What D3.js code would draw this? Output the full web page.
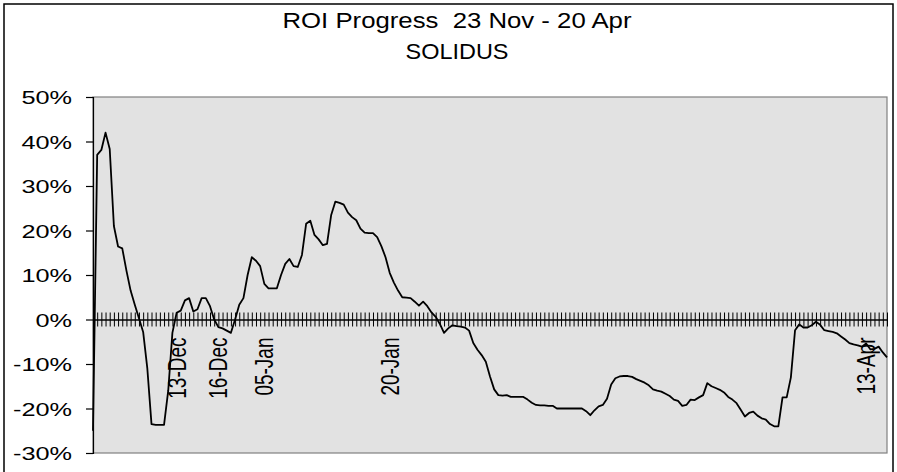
<!DOCTYPE html>
<html>
<head>
<meta charset="utf-8">
<script src="https://cdn.jsdelivr.net/npm/d3@7"></script>
<style>
body { margin: 0; background: #fff; }
svg { display: block; font-family: "Liberation Sans", Arial, sans-serif; }
</style>
</head>
<body>
<div id="chart"></div>
<script>
var titleLines = ['ROI Progress  23 Nov - 20 Apr', 'SOLIDUS'];

// ROI in %, one value per category on the axis
var roi = [
  -25, 37, 38.1, 42, 38.3, 21, 16.4, 16, 11, 6.5,
  3.3, 0.3, -2.8, -11, -23.5, -23.7, -23.7, -23.7, -16, -3,
  1.5, 2, 4.3, 4.8, 1.8, 2.3, 4.8, 4.8, 3, 0,
  -1.7, -2, -2.5, -3, 0, 3.3, 4.8, 10, 14, 13.2,
  12, 8, 7, 7, 7, 10, 12.5, 13.6, 12, 11.8,
  14.5, 21.5, 22.2, 19, 18, 16.7, 17, 23.5, 26.5, 26.2,
  25.8, 24, 23, 22.3, 20.4, 19.5, 19.4, 19.4, 18.5, 16.5,
  14, 10.5, 8.3, 6.5, 5, 4.9, 4.8, 4, 3.1, 4,
  3, 1.6, 0.6, -1, -3, -2, -1.3, -1.5, -1.6, -1.8,
  -2.5, -5.3, -6.8, -8, -9.5, -12.8, -15.7, -17, -17.1, -17,
  -17.4, -17.4, -17.4, -17.4, -18, -18.7, -19.2, -19.3, -19.3, -19.4,
  -19.4, -20, -20, -20, -20, -20, -20, -20, -20.6, -21.5,
  -20.4, -19.5, -19.2, -17.8, -14.6, -13.2, -12.8, -12.7, -12.7, -12.9,
  -13.4, -13.8, -14.2, -14.8, -15.7, -16, -16.2, -16.7, -17.2, -18,
  -18.3, -19.4, -19.2, -18, -18.1, -17.5, -17, -14.3, -15, -15.4,
  -15.8, -16.4, -17.4, -18, -18.8, -20.3, -21.8, -21, -20.7, -21.6,
  -22.2, -22.5, -23.5, -24, -24, -17.5, -17.5, -13, -2.4, -1.1,
  -1.8, -1.8, -1.3, -0.5, -1.2, -2.4, -2.6, -2.8, -3.1, -3.8,
  -4.5, -5.3, -5.6, -5.8, -6.1, -5.4, -6.7, -6.6, -6.1, -7.4,
  -8.5
];

var yTicks = [-30, -20, -10, 0, 10, 20, 30, 40, 50];

// which categories carry a date label
var labelIndex = [20, 30, 41, 71, 185];
var labelText = ['13-Dec', '16-Dec', '05-Jan', '20-Jan', '13-Apr'];

var W = 897, H = 472;
var margin = {top: 97, right: 10, bottom: 19, left: 93};
var width = W - margin.left - margin.right;
var height = H - margin.top - margin.bottom;
var stretch = 1.33;   // the original text is drawn wide

var svg = d3.select('#chart').append('svg')
    .attr('width', W)
    .attr('height', H);

// outer chart frame (bottom edge runs off the picture)
svg.append('rect')
    .attr('x', 4).attr('y', 4)
    .attr('width', 889).attr('height', 490)
    .attr('fill', 'none')
    .attr('stroke', '#000')
    .attr('stroke-width', 1.5);

// titles
svg.selectAll('.title')
    .data(titleLines)
  .enter().append('text')
    .attr('class', 'title')
    .attr('x', 457)
    .attr('y', function(d, i) { return 28 + i * 31; })
    .attr('text-anchor', 'middle')
    .style('white-space', 'pre')
    .style('font-size', '22px')
    .attr('textLength', function(d, i) { return i === 0 ? 349 : 103; })
    .attr('lengthAdjust', 'spacingAndGlyphs')
    .text(function(d) { return d; });

var x = d3.scalePoint()
    .domain(d3.range(roi.length))
    .range([0, width]);
var y = d3.scaleLinear()
    .domain([-30, 50])
    .range([height, 0]);

var g = svg.append('g')
    .attr('transform', 'translate(' + margin.left + ',' + margin.top + ')');

// plot area
g.append('rect')
    .attr('width', width)
    .attr('height', height)
    .attr('fill', '#e2e2e2')
    .attr('stroke', '#808080')
    .attr('stroke-width', 1.2);

// y axis
var yAxis = g.append('g')
    .attr('class', 'axis axis--y')
    .call(d3.axisLeft(y).tickValues(yTicks).tickSize(7).tickPadding(14)
        .tickFormat(function(d) { return d + '%'; }));
yAxis.select('.domain').attr('stroke', '#000').attr('stroke-width', 1.2);
yAxis.selectAll('.tick line').attr('stroke', '#000').attr('stroke-width', 1.2);
yAxis.selectAll('.tick text')
    .attr('fill', '#000')
    .style('font-size', '19px')
    .attr('font-family', '"Liberation Sans", Arial, sans-serif')
    .attr('dy', '0.36em')
    .each(function() {
        d3.select(this)
            .attr('textLength', this.getComputedTextLength() * stretch)
            .attr('lengthAdjust', 'spacingAndGlyphs');
    });

// category axis at 0%, tick through the line at every category
var xAxis = g.append('g')
    .attr('class', 'axis axis--x')
    .attr('transform', 'translate(0,' + y(0) + ')')
    .call(d3.axisBottom(x).tickSize(0).tickFormat(''));
xAxis.select('.domain').attr('stroke', '#000').attr('stroke-width', 1.3);
xAxis.selectAll('.tick line')
    .attr('y1', -7).attr('y2', 7)
    .attr('stroke', '#000')
    .attr('stroke-width', 1);

// date labels, rotated, ending just below the axis
g.selectAll('.xlabel')
    .data(labelIndex)
  .enter().append('text')
    .attr('class', 'xlabel')
    .attr('transform', function(d) {
        return 'translate(' + (x(d) + 9) + ',' + (y(0) + 18) + ') scale(' + stretch + ',1) rotate(-90)';
    })
    .attr('text-anchor', 'end')
    .style('font-size', '19px')
    .text(function(d, i) { return labelText[i]; });

// ROI line
var line = d3.line()
    .x(function(d, i) { return x(i); })
    .y(function(d) { return y(d); });

g.append('path')
    .datum(roi)
    .attr('fill', 'none')
    .attr('stroke', '#000')
    .attr('stroke-width', 1.8)
    .attr('stroke-linejoin', 'round')
    .attr('d', line);
</script>
</body>
</html>
